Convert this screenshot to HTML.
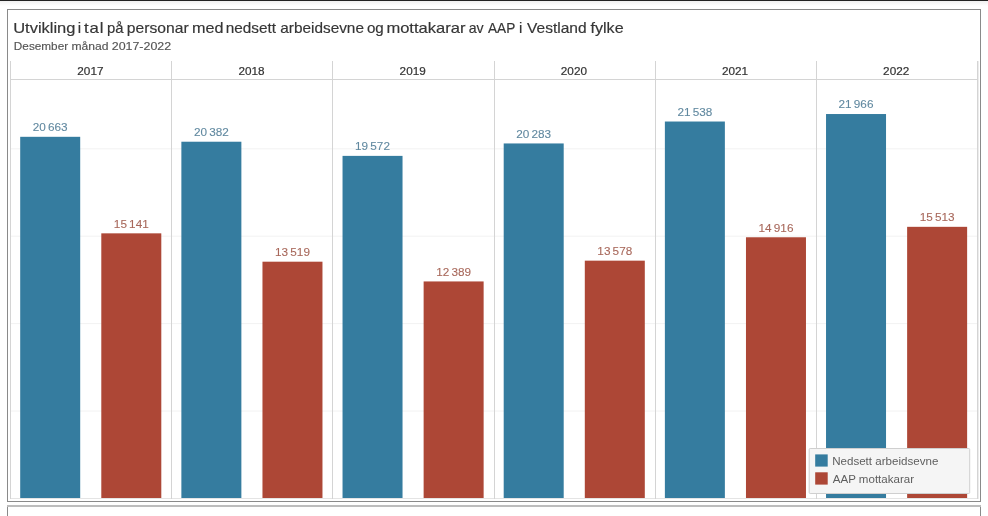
<!DOCTYPE html>
<html lang="nn"><head><meta charset="utf-8"><title>Utvikling i tal på personar med nedsett arbeidsevne</title>
<style>
html,body{margin:0;padding:0;background:#fff;}
body{width:988px;height:516px;overflow:hidden;font-family:"Liberation Sans",sans-serif;}
svg{display:block;}
text{font-family:"Liberation Sans",sans-serif;}
.t{font-size:15px;fill:#363636;stroke:#363636;stroke-width:0.18px;}
.s{font-size:11.5px;fill:#555;stroke:#555;stroke-width:0.15px;}
.h{font-size:11.3px;fill:#333;stroke:#333;stroke-width:0.2px;text-anchor:middle;}
.lb{font-size:11.8px;fill:#6189a0;stroke:#6189a0;stroke-width:0.1px;word-spacing:-1.1px;text-anchor:middle;}
.lr{font-size:11.8px;fill:#a8685b;stroke:#a8685b;stroke-width:0.1px;word-spacing:-1.1px;text-anchor:middle;}
.lg{font-size:10.5px;fill:#5e5e5e;}
</style></head><body>
<svg width="988" height="516" viewBox="0 0 988 516">
<defs><linearGradient id="tg" x1="0" y1="0" x2="0" y2="1"><stop offset="0" stop-color="#f0f0f0"/><stop offset="1" stop-color="#ffffff"/></linearGradient></defs>
<rect x="0" y="0" width="988" height="516" fill="#fff"/>
<rect x="0" y="1" width="988" height="5" fill="url(#tg)"/>
<rect x="0" y="0" width="988" height="1" fill="#222"/>
<rect x="7.5" y="9.5" width="973" height="492" fill="#fff" stroke="#8a8a8a" stroke-width="1"/>
<rect x="7.5" y="506.5" width="973" height="30" fill="#fff" stroke="#8a8a8a" stroke-width="1"/>
<rect x="7" y="505" width="974" height="2" fill="#bdbdbd"/>
<text class="t" y="32.6"><tspan x="13.20" textLength="62.23" lengthAdjust="spacingAndGlyphs">Utvikling</tspan> <tspan x="77.80">i</tspan> <tspan x="83.90" textLength="20.70" lengthAdjust="spacingAndGlyphs" style="letter-spacing:0.9px">tal</tspan> <tspan x="107.01" textLength="16.53" lengthAdjust="spacingAndGlyphs">på</tspan> <tspan x="126.86" textLength="61.75" lengthAdjust="spacingAndGlyphs">personar</tspan> <tspan x="191.92" textLength="31.49" lengthAdjust="spacingAndGlyphs">med</tspan> <tspan x="225.68" textLength="50.39" lengthAdjust="spacingAndGlyphs">nedsett</tspan> <tspan x="280.29" textLength="83.66" lengthAdjust="spacingAndGlyphs">arbeidsevne</tspan> <tspan x="366.90" textLength="16.85" lengthAdjust="spacingAndGlyphs">og</tspan> <tspan x="386.40" textLength="79.03" lengthAdjust="spacingAndGlyphs">mottakarar</tspan> <tspan x="468.73" textLength="14.96" lengthAdjust="spacingAndGlyphs">av</tspan> <tspan x="488.04" textLength="27.01" lengthAdjust="spacingAndGlyphs">AAP</tspan> <tspan x="519.10">i</tspan> <tspan x="527.00" textLength="59.58" lengthAdjust="spacingAndGlyphs">Vestland</tspan> <tspan x="590.53" textLength="33.11" lengthAdjust="spacingAndGlyphs">fylke</tspan></text>
<text class="s" y="49.6"><tspan x="13.83" textLength="54.33" lengthAdjust="spacingAndGlyphs">Desember</tspan> <tspan x="71.41" textLength="37.10" lengthAdjust="spacingAndGlyphs">månad</tspan> <tspan x="111.76" textLength="59.38" lengthAdjust="spacingAndGlyphs">2017-2022</tspan></text>
<line x1="10" x2="977" y1="411.0" y2="411.0" stroke="#f2f2f2" stroke-width="1"/>
<line x1="10" x2="977" y1="323.6" y2="323.6" stroke="#f2f2f2" stroke-width="1"/>
<line x1="10" x2="977" y1="236.2" y2="236.2" stroke="#f2f2f2" stroke-width="1"/>
<line x1="10" x2="977" y1="148.8" y2="148.8" stroke="#f2f2f2" stroke-width="1"/>
<line x1="10" x2="978" y1="79.5" y2="79.5" stroke="#d4d4d4" stroke-width="1"/>
<line x1="978.5" x2="978.5" y1="61" y2="499" stroke="#ececec" stroke-width="1"/>
<line x1="10" x2="978" y1="498.5" y2="498.5" stroke="#e4e4e4" stroke-width="1"/>
<line x1="10.5" x2="10.5" y1="61" y2="499" stroke="#d4d4d4" stroke-width="1"/>
<line x1="171.5" x2="171.5" y1="61" y2="499" stroke="#d4d4d4" stroke-width="1"/>
<line x1="332.5" x2="332.5" y1="61" y2="499" stroke="#d4d4d4" stroke-width="1"/>
<line x1="494.5" x2="494.5" y1="61" y2="499" stroke="#d4d4d4" stroke-width="1"/>
<line x1="655.5" x2="655.5" y1="61" y2="499" stroke="#d4d4d4" stroke-width="1"/>
<line x1="816.5" x2="816.5" y1="61" y2="499" stroke="#d4d4d4" stroke-width="1"/>
<line x1="977.5" x2="977.5" y1="61" y2="499" stroke="#d4d4d4" stroke-width="1"/>
<text class="h" x="90.4" y="74.9" textLength="26.13" lengthAdjust="spacingAndGlyphs">2017</text>
<rect x="20.20" y="136.81" width="60" height="361.19" fill="#357c9f"/>
<rect x="101.30" y="233.34" width="60" height="264.66" fill="#ad4736"/>
<text class="lb" x="50.2" y="131.0" textLength="34.89" lengthAdjust="spacingAndGlyphs">20 663</text>
<text class="lr" x="131.3" y="227.5" textLength="34.89" lengthAdjust="spacingAndGlyphs">15 141</text>
<text class="h" x="251.6" y="74.9" textLength="26.13" lengthAdjust="spacingAndGlyphs">2018</text>
<rect x="181.37" y="141.72" width="60" height="356.28" fill="#357c9f"/>
<rect x="262.47" y="261.69" width="60" height="236.31" fill="#ad4736"/>
<text class="lb" x="211.4" y="135.9" textLength="34.89" lengthAdjust="spacingAndGlyphs">20 382</text>
<text class="lr" x="292.5" y="255.9" textLength="34.89" lengthAdjust="spacingAndGlyphs">13 519</text>
<text class="h" x="412.7" y="74.9" textLength="26.13" lengthAdjust="spacingAndGlyphs">2019</text>
<rect x="342.53" y="155.88" width="60" height="342.12" fill="#357c9f"/>
<rect x="423.63" y="281.44" width="60" height="216.56" fill="#ad4736"/>
<text class="lb" x="372.5" y="150.1" textLength="34.89" lengthAdjust="spacingAndGlyphs">19 572</text>
<text class="lr" x="453.6" y="275.6" textLength="34.89" lengthAdjust="spacingAndGlyphs">12 389</text>
<text class="h" x="573.9" y="74.9" textLength="26.13" lengthAdjust="spacingAndGlyphs">2020</text>
<rect x="503.70" y="143.45" width="60" height="354.55" fill="#357c9f"/>
<rect x="584.80" y="260.66" width="60" height="237.34" fill="#ad4736"/>
<text class="lb" x="533.7" y="137.7" textLength="34.89" lengthAdjust="spacingAndGlyphs">20 283</text>
<text class="lr" x="614.8" y="254.9" textLength="34.89" lengthAdjust="spacingAndGlyphs">13 578</text>
<text class="h" x="735.0" y="74.9" textLength="26.13" lengthAdjust="spacingAndGlyphs">2021</text>
<rect x="664.87" y="121.52" width="60" height="376.48" fill="#357c9f"/>
<rect x="745.97" y="237.27" width="60" height="260.73" fill="#ad4736"/>
<text class="lb" x="694.9" y="115.7" textLength="34.89" lengthAdjust="spacingAndGlyphs">21 538</text>
<text class="lr" x="776.0" y="231.5" textLength="34.89" lengthAdjust="spacingAndGlyphs">14 916</text>
<text class="h" x="896.2" y="74.9" textLength="26.13" lengthAdjust="spacingAndGlyphs">2022</text>
<rect x="826.03" y="114.03" width="60" height="383.97" fill="#357c9f"/>
<rect x="907.13" y="226.83" width="60" height="271.17" fill="#ad4736"/>
<text class="lb" x="856.0" y="108.2" textLength="34.89" lengthAdjust="spacingAndGlyphs">21 966</text>
<text class="lr" x="937.1" y="221.0" textLength="34.89" lengthAdjust="spacingAndGlyphs">15 513</text>
<rect x="809.2" y="448.5" width="160.5" height="45" rx="1" ry="1" fill="#f5f5f5" stroke="#cfcfcf" stroke-width="1"/>
<rect x="815.2" y="454.4" width="12.5" height="12.2" fill="#357c9f"/>
<rect x="815.2" y="472.3" width="12.5" height="12.3" fill="#ad4736"/>
<text class="lg" x="832.17" y="464.6" textLength="106.17" lengthAdjust="spacingAndGlyphs">Nedsett arbeidsevne</text>
<text class="lg" x="832.80" y="482.5" textLength="81.19" lengthAdjust="spacingAndGlyphs">AAP mottakarar</text>
</svg></body></html>
